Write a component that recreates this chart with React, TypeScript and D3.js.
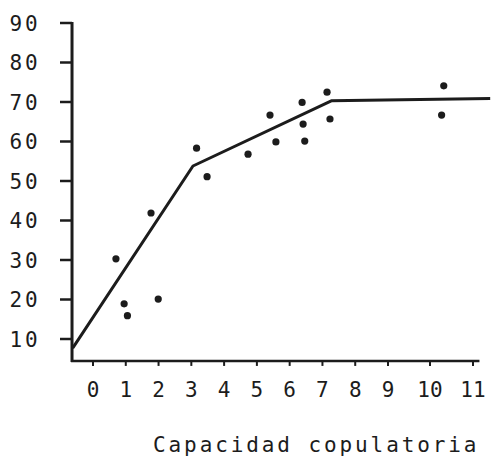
import React from "react";
import * as d3 from "d3";

// valores
const capacidad = [0.7, 0.95, 1.05, 1.77, 1.99, 3.16, 3.48, 4.73, 5.4, 5.58, 6.38, 6.41, 6.46, 7.14, 7.23, 10.32, 10.27];
const respuesta = [30.3, 18.9, 15.9, 41.9, 20.1, 58.3, 51.1, 56.8, 66.7, 59.9, 69.9, 64.4, 60.1, 72.5, 65.7, 74.1, 66.7];

// recta ajustada por tramos
const tramoX = [-0.62, 3.05, 7.27, 11.4];
const tramoY = [7.7, 53.8, 70.3, 70.9];

const xTicks = [0, 1, 2, 3, 4, 5, 6, 7, 8, 9, 10, 11];
const yTicks = [10, 20, 30, 40, 50, 60, 70, 80, 90];
const xTitle = "Capacidad copulatoria";

const W = 491;
const H = 459;
const FONT = "'DejaVu Sans Mono', monospace";
const INK = "#1c1c1c";

export default function App() {
  // la escala del original no es regular al final (9-10-11)
  const x = d3.scaleLinear().domain([0, 9, 10, 11]).range([93, 388, 430, 473]);
  const y = d3.scaleLinear().domain([0, 90]).range([378.5, 23]);

  const xStart = -0.64;
  const xEnd = 11.15;
  const yStart = 4.45;

  const line = d3
    .line<number>()
    .x((d) => x(tramoX[d]))
    .y((d) => y(tramoY[d]));

  return (
    <svg
      width={W}
      height={H}
      style={{ position: "absolute", left: 0, top: 0, background: "#fff" }}
    >
      {/* eje y */}
      <line x1={x(xStart)} x2={x(xStart)} y1={y(90) - 1} y2={y(yStart) + 1} stroke={INK} strokeWidth={3} />
      {yTicks.map((t) => (
        <g key={"y" + t}>
          <line x1={x(xStart) - 12} x2={x(xStart)} y1={y(t)} y2={y(t)} stroke={INK} strokeWidth={2.5} />
          <text
            x={40.5}
            y={y(t)}
            dy="0.36em"
            textAnchor="end"
            fontFamily={FONT}
            fontSize={21}
            letterSpacing={2.8}
            fill={INK}
          >
            {t}
          </text>
        </g>
      ))}

      {/* eje x */}
      <line x1={x(xStart) - 1} x2={x(xEnd)} y1={y(yStart)} y2={y(yStart)} stroke={INK} strokeWidth={2.5} />
      {xTicks.map((t) => (
        <g key={"x" + t}>
          <line x1={x(t)} x2={x(t)} y1={y(yStart)} y2={y(yStart) + 5} stroke={INK} strokeWidth={2} />
          <text
            x={x(t)}
            y={397}
            textAnchor="middle"
            fontFamily={FONT}
            fontSize={21}
            fill={INK}
          >
            {t}
          </text>
        </g>
      ))}
      <text x={153} y={452} fontFamily={FONT} fontSize={21} letterSpacing={2.9} fill={INK}>
        {xTitle}
      </text>

      {/* recta */}
      <path
        d={line(d3.range(tramoX.length)) || ""}
        fill="none"
        stroke={INK}
        strokeWidth={3}
        strokeLinejoin="round"
      />

      {/* puntos */}
      {capacidad.map((c, i) => (
        <circle key={i} cx={x(c)} cy={y(respuesta[i])} r={3.6} fill={INK} />
      ))}
    </svg>
  );
}
